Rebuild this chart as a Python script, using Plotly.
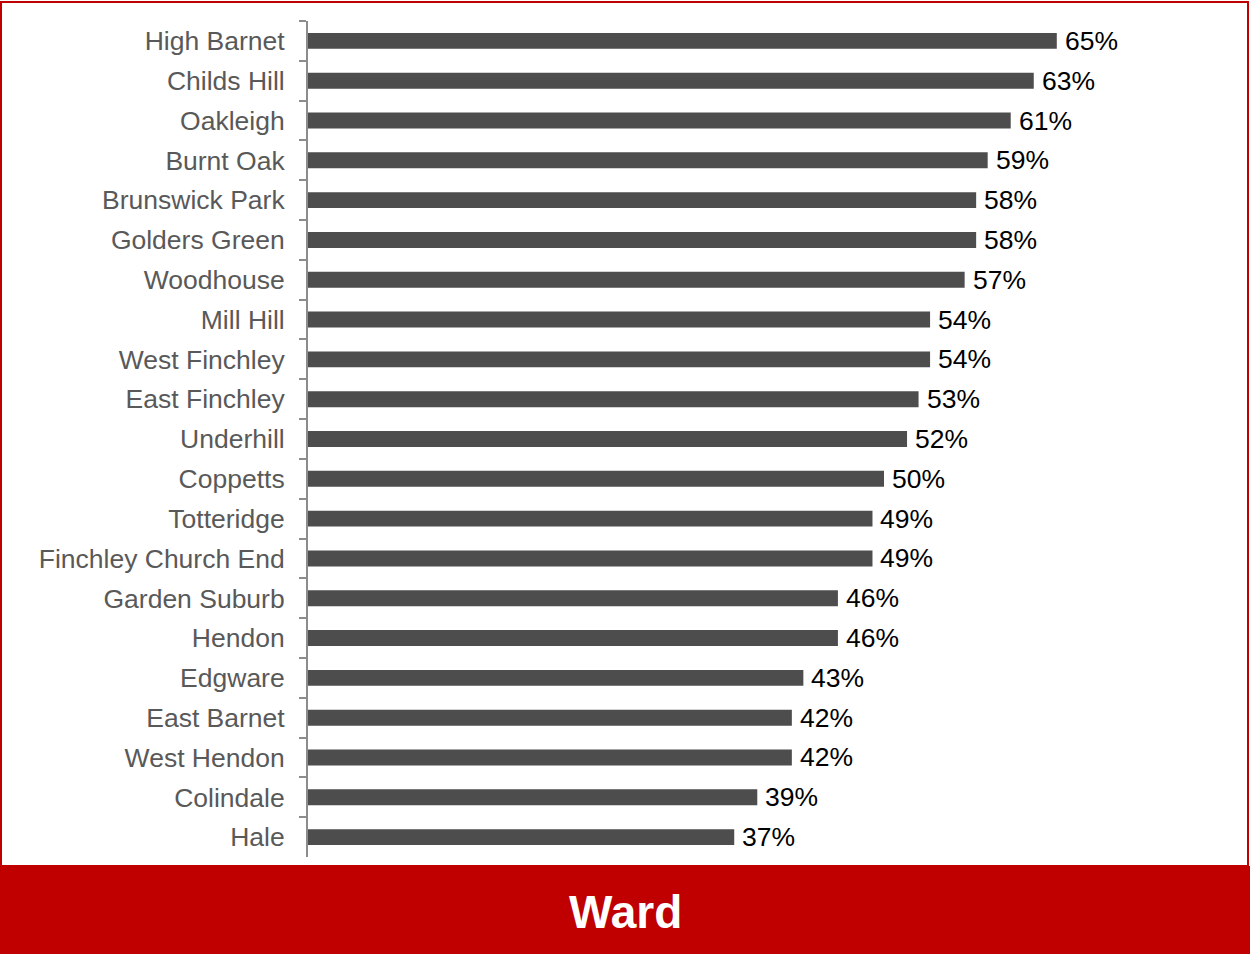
import plotly.graph_objects as go

# Share by ward (%), listed top to bottom
wards = [
    "High Barnet", "Childs Hill", "Oakleigh", "Burnt Oak", "Brunswick Park",
    "Golders Green", "Woodhouse", "Mill Hill", "West Finchley", "East Finchley",
    "Underhill", "Coppetts", "Totteridge", "Finchley Church End", "Garden Suburb",
    "Hendon", "Edgware", "East Barnet", "West Hendon", "Colindale", "Hale",
]
values = [65, 63, 61, 59, 58, 58, 57, 54, 54, 53, 52, 50, 49, 49, 46, 46, 43, 42, 42, 39, 37]

W, H = 1250, 954
M_L, M_R, M_T, M_B = 308, 100, 21, 97
PX_PER_PCT = 11.52
x_max = (W - M_L - M_R) / PX_PER_PCT
plot_w = W - M_L - M_R
plot_h = H - M_T - M_B

BAR = "#4d4d4d"
RED = "#c00000"
FONT = "Liberation Sans, Arial, sans-serif"

fig = go.Figure(
    go.Bar(
        x=values,
        y=wards,
        orientation="h",
        marker=dict(color=BAR, line=dict(width=0)),
        width=0.4,
        hoverinfo="skip",
    )
)

# value labels just past the end of each bar
for w, v in zip(wards, values):
    fig.add_annotation(
        x=v, y=w, text=f"{v}%", showarrow=False,
        xanchor="left", yanchor="middle", xshift=6,
        font=dict(family=FONT, size=26.5, color="#000000"),
    )

# red banner along the bottom with the axis title
banner_top = -(866 - (H - M_B)) / plot_h
banner_bot = -(H - (H - M_B)) / plot_h
fig.add_shape(
    type="rect", xref="paper", yref="paper",
    x0=-M_L / plot_w, x1=1 + M_R / plot_w,
    y0=banner_bot, y1=banner_top,
    fillcolor=RED, line=dict(width=0), layer="above",
)
fig.add_annotation(
    x=(625 - M_L) / plot_w, xref="paper",
    y=(banner_top + banner_bot) / 2, yref="paper", yshift=-2,
    text="<b>Ward</b>", showarrow=False, xanchor="center", yanchor="middle",
    font=dict(family=FONT, size=46, color="#ffffff"),
)

# thin red frame around the whole figure
fig.add_shape(
    type="rect", xref="paper", yref="paper",
    x0=(1 - M_L) / plot_w, x1=(W - 2 - M_L) / plot_w,
    y0=banner_top, y1=(H - M_B - 2) / plot_h,
    fillcolor="rgba(0,0,0,0)", line=dict(color=RED, width=2), layer="above",
)

fig.update_layout(
    width=W, height=H,
    margin=dict(l=M_L, r=M_R, t=M_T, b=M_B, pad=0),
    paper_bgcolor="#ffffff", plot_bgcolor="#ffffff",
    showlegend=False,
    bargap=0.6,
    xaxis=dict(
        range=[0, x_max], visible=False, showgrid=False, zeroline=False,
    ),
    yaxis=dict(
        autorange="reversed",
        type="category",
        showline=True, linecolor="#8c8c8c", linewidth=2,
        ticks="outside", tickson="boundaries", ticklen=7, tickwidth=2,
        tickcolor="#8c8c8c",
        ticklabelstandoff=16,
        tickfont=dict(family=FONT, size=26.5, color="#595959"),
        showgrid=False, zeroline=False,
    ),
)

fig.write_html("out.html")
